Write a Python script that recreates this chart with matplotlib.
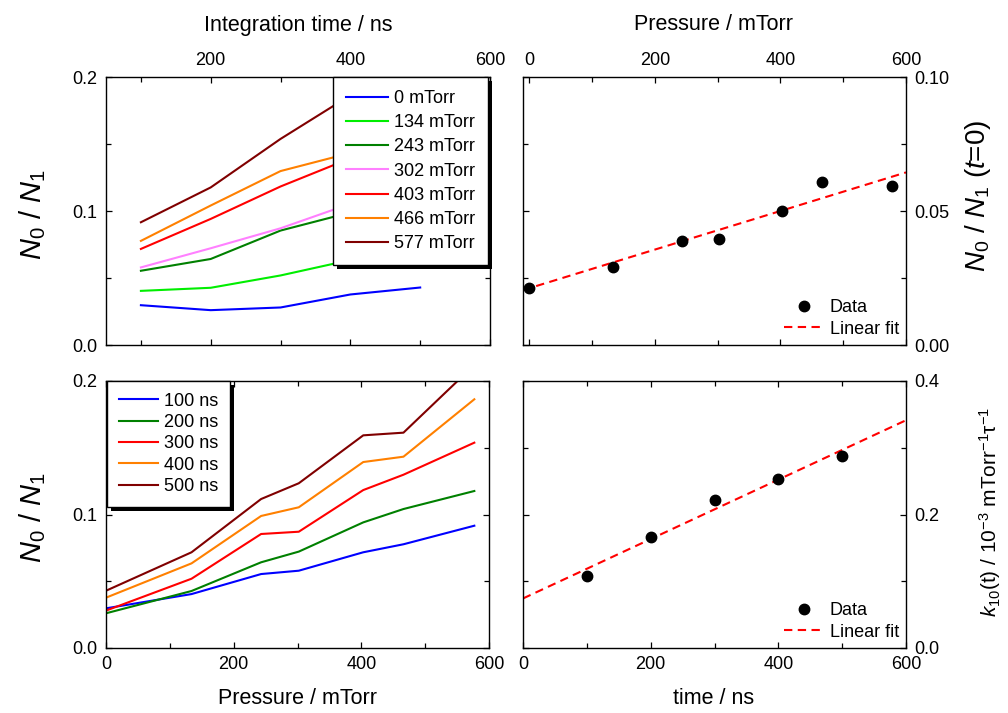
import numpy as np
import matplotlib
matplotlib.use("Agg")
import matplotlib.pyplot as plt
from matplotlib.ticker import MultipleLocator
from matplotlib.patches import Rectangle

plt.rcParams['font.family'] = ['Liberation Sans', 'DejaVu Sans']
plt.rcParams['mathtext.fontset'] = 'custom'
plt.rcParams['mathtext.rm'] = 'Liberation Sans'
plt.rcParams['mathtext.it'] = 'Liberation Sans:italic'
plt.rcParams['mathtext.bf'] = 'Liberation Sans:bold'

# ---------------- data ----------------
times = [100, 200, 300, 400, 500]                 # ns
pressures = [0, 134, 243, 302, 403, 466, 577]     # mTorr
pressure_labels = ['0 mTorr', '134 mTorr', '243 mTorr', '302 mTorr',
                   '403 mTorr', '466 mTorr', '577 mTorr']
time_labels = ['100 ns', '200 ns', '300 ns', '400 ns', '500 ns']

# N0/N1 vs pressure, one list per integration time
ratio_100ns = [0.0297, 0.0404, 0.0554, 0.0579, 0.0717, 0.0777, 0.0916]
ratio_200ns = [0.0260, 0.0427, 0.0642, 0.0722, 0.0941, 0.1041, 0.1176]
ratio_300ns = [0.0280, 0.0519, 0.0854, 0.0871, 0.1183, 0.1298, 0.1538]
ratio_400ns = [0.0377, 0.0634, 0.0989, 0.1054, 0.1393, 0.1433, 0.1863]
ratio_500ns = [0.0429, 0.0717, 0.1116, 0.1234, 0.1593, 0.1613, 0.2120]
ratios_by_time = [ratio_100ns, ratio_200ns, ratio_300ns, ratio_400ns, ratio_500ns]

# extrapolated N0/N1 at t=0 vs pressure
ratio_t0 = [0.0212, 0.0290, 0.0387, 0.0397, 0.0501, 0.0609, 0.0593]
t0_fit_intercept = 0.0212
t0_fit_slope = 7.2e-5

# k10(t) vs time
k10 = [0.108, 0.1668, 0.2217, 0.253, 0.2874]
k_fit_intercept = 0.0742
k_fit_slope = 4.45e-4

pressure_colors = ['#0000FF', '#00EE00', '#008000', '#FF80FF',
                   '#FF0000', '#FF8000', '#800000']
time_colors = ['#0000FF', '#008000', '#FF0000', '#FF8000', '#800000']

# ---------------- figure ----------------
W, H = 1008, 713
fig = plt.figure(figsize=(W / 100, H / 100), dpi=100)

def ax_at(l, r, t, b):
    return fig.add_axes([l / W, 1 - b / H, (r - l) / W, (b - t) / H])

ax_tl = ax_at(106, 490, 77, 345)
ax_tr = ax_at(523, 906, 77, 345)
ax_bl = ax_at(106, 489, 381, 648)
ax_br = ax_at(523, 906, 381, 648)

for ax in (ax_tl, ax_tr, ax_bl, ax_br):
    for s in ax.spines.values():
        s.set_linewidth(1.0)
    ax.tick_params(which='both', direction='in', top=True, bottom=True,
                   left=True, right=True, labelsize=13, width=0.9,
                   pad=6)
    ax.tick_params(which='major', length=4.5)
    ax.tick_params(which='minor', length=3.5)

lw = 1.5

# top-left: N0/N1 vs integration time, one line per pressure
for i, lab in enumerate(pressure_labels):
    vals = [r[i] for r in ratios_by_time]
    ax_tl.plot(times, vals, color=pressure_colors[i], lw=lw, label=lab)
ax_tl.set_xlim(50, 600)
ax_tl.set_ylim(0, 0.2)
ax_tl.xaxis.set_major_locator(MultipleLocator(200))
ax_tl.xaxis.set_minor_locator(MultipleLocator(100))
ax_tl.yaxis.set_major_locator(MultipleLocator(0.1))
ax_tl.yaxis.set_minor_locator(MultipleLocator(0.05))
ax_tl.tick_params(labelbottom=False, labeltop=True, labelleft=True, labelright=False)
ax_tl.yaxis.set_major_formatter(plt.FormatStrFormatter('%.1f'))
leg = ax_tl.legend(loc='upper right', bbox_to_anchor=(1 - 2 / 384, 1),
                   borderaxespad=0, fontsize=13, handlelength=2.3,
                   handletextpad=0.35, labelspacing=0.4, borderpad=0.72,
                   fancybox=False, framealpha=1, edgecolor='black')
leg.get_frame().set_linewidth(1.0)

# top-right: N0/N1(t=0) vs pressure
ax_tr.plot(pressures, ratio_t0, 'o', color='black', ms=7.5, label='Data', zorder=3)
ax_tr.set_xlim(-10, 600)
ax_tr.set_ylim(0, 0.10)
xf = np.array(ax_tr.get_xlim())
ax_tr.plot(xf, t0_fit_intercept + t0_fit_slope * xf, color='#FF0000', lw=lw,
           dashes=(4, 2.6), label='Linear fit', zorder=2)
ax_tr.xaxis.set_major_locator(MultipleLocator(200))
ax_tr.xaxis.set_minor_locator(MultipleLocator(100))
ax_tr.yaxis.set_major_locator(MultipleLocator(0.05))
ax_tr.yaxis.set_minor_locator(MultipleLocator(0.025))
ax_tr.yaxis.set_major_formatter(plt.FormatStrFormatter('%.2f'))
ax_tr.tick_params(labelbottom=False, labeltop=True, labelleft=False, labelright=True)
ax_tr.legend(loc='lower right', frameon=False, fontsize=13, handlelength=2.2,
             handletextpad=0.3, labelspacing=0.25, borderaxespad=0.1,
             borderpad=0.3)

# bottom-left: N0/N1 vs pressure, one line per time
for j, lab in enumerate(time_labels):
    ax_bl.plot(pressures, ratios_by_time[j], color=time_colors[j], lw=lw, label=lab)
ax_bl.set_xlim(0, 600)
ax_bl.set_ylim(0, 0.2)
ax_bl.xaxis.set_major_locator(MultipleLocator(200))
ax_bl.xaxis.set_minor_locator(MultipleLocator(100))
ax_bl.yaxis.set_major_locator(MultipleLocator(0.1))
ax_bl.yaxis.set_minor_locator(MultipleLocator(0.05))
ax_bl.yaxis.set_major_formatter(plt.FormatStrFormatter('%.1f'))
ax_bl.tick_params(labelbottom=True, labeltop=False, labelleft=True, labelright=False)
leg2 = ax_bl.legend(loc='upper left', bbox_to_anchor=(1 / 383, 1),
                    borderaxespad=0, fontsize=13, handlelength=2.2,
                    handletextpad=0.3, labelspacing=0.24, borderpad=0.65,
                    fancybox=False, framealpha=1, edgecolor='black')
leg2.get_frame().set_linewidth(1.0)

# bottom-right: k10 vs time
ax_br.plot(times, k10, 'o', color='black', ms=7.5, label='Data', zorder=3)
ax_br.set_xlim(0, 600)
ax_br.set_ylim(0, 0.4)
xf2 = np.array(ax_br.get_xlim())
ax_br.plot(xf2, k_fit_intercept + k_fit_slope * xf2, color='#FF0000', lw=lw,
           dashes=(4, 2.6), label='Linear fit', zorder=2)
ax_br.xaxis.set_major_locator(MultipleLocator(200))
ax_br.xaxis.set_minor_locator(MultipleLocator(100))
ax_br.yaxis.set_major_locator(MultipleLocator(0.2))
ax_br.yaxis.set_minor_locator(MultipleLocator(0.1))
ax_br.yaxis.set_major_formatter(plt.FormatStrFormatter('%.1f'))
ax_br.tick_params(labelbottom=True, labeltop=False, labelleft=False, labelright=True)
ax_br.legend(loc='lower right', frameon=False, fontsize=13, handlelength=2.2,
             handletextpad=0.3, labelspacing=0.25, borderaxespad=0.1,
             borderpad=0.3)

# ---------------- labels ----------------
def ftext(x, y, s, **kw):
    fig.text(x / W, 1 - y / H, s, ha='center', va='center', **kw)

ftext(298, 25, 'Integration time / ns', fontsize=15.5)
ftext(714, 25, 'Pressure / mTorr', fontsize=15.5)
ftext(298, 699, 'Pressure / mTorr', fontsize=15.5)
ftext(714, 699, 'time / ns', fontsize=15.5)
ftext(33, 215, r'$N_0\ /\ N_1$', fontsize=21, rotation=90)
ftext(33, 518, r'$N_0\ /\ N_1$', fontsize=21, rotation=90)
ftext(978, 196, r'$N_0\ /\ N_1$ ($t$=0)', fontsize=20, rotation=90)
ftext(990, 512, r'$k_{10}$(t) / 10$^{-3}$ mTorr$^{-1}$τ$^{-1}$', fontsize=15, rotation=90)

# solid black drop shadows behind the two framed legends
fig.canvas.draw()
for ax, lg in ((ax_tl, leg), (ax_bl, leg2)):
    bb = lg.get_window_extent()
    ax.add_patch(Rectangle((bb.x0 + 4, bb.y0 - 4), bb.width, bb.height,
                           transform=None, facecolor='black', edgecolor='none',
                           clip_on=False, zorder=4.9))

fig.savefig('out.png', dpi=100)
